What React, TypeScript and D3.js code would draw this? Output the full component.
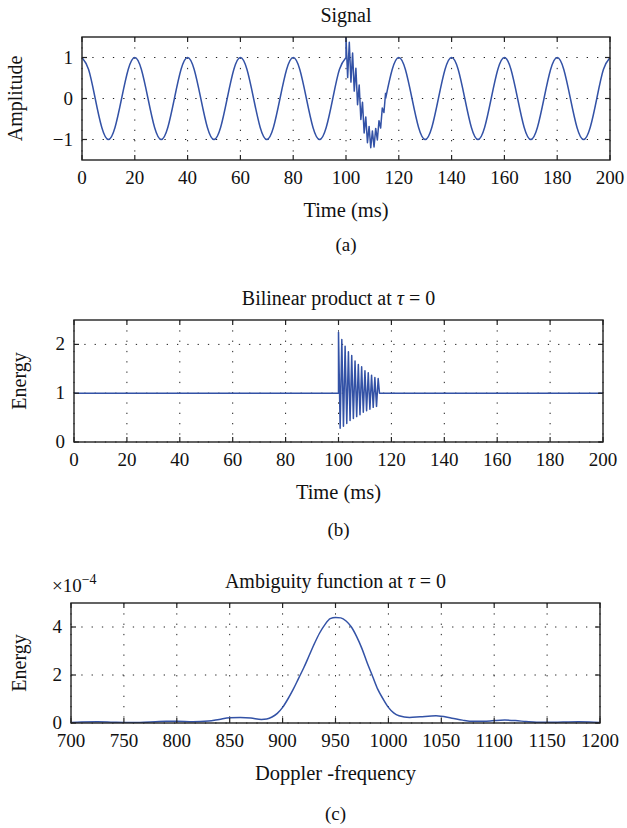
import React, { useRef, useEffect } from "react";
import * as d3 from "d3";

const WIDTH = 627;
const HEIGHT = 828;
const FONT = "'Liberation Serif', 'Times New Roman', serif";
const LINE_COLOR = "#3352a6";

// (a) Signal, sampled every 2.5 ms outside the burst, 0.625 ms inside it
const SIGNAL_STEP = 2.5;
const BURST_STEP = 0.625;
const BURST_START = 100;
const AFTER_START = 115;
const signalBefore = [
    1, 0.707, 0, -0.707, -1, -0.707, 0, 0.707,
    1, 0.707, 0, -0.707, -1, -0.707, 0, 0.707,
    1, 0.707, 0, -0.707, -1, -0.707, 0, 0.707,
    1, 0.707, 0, -0.707, -1, -0.707, 0, 0.707,
    1, 0.707, 0, -0.707, -1, -0.707, 0, 0.707,
    1,
];
const signalBurst = [
    1.5, 0.51, 1.37, 0.4, 1.11, 0.18, 0.74, -0.15, 0.33, -0.51, -0.09, -0.84,
    -0.45, -1.08, -0.68, -1.2, -0.79, -1.18, -0.73, -1.01, -0.54, -0.72, -0.23,
    -0.34, 0.14,
];
const signalAfter = [
    0, 0.707,
    1, 0.707, 0, -0.707, -1, -0.707, 0, 0.707,
    1, 0.707, 0, -0.707, -1, -0.707, 0, 0.707,
    1, 0.707, 0, -0.707, -1, -0.707, 0, 0.707,
    1, 0.707, 0, -0.707, -1, -0.707, 0, 0.707,
    1,
];
const timeTicks = [0, 20, 40, 60, 80, 100, 120, 140, 160, 180, 200];
const amplitudeTicks = [-1, 0, 1];

// (b) Bilinear product at tau = 0
const energyBaseTimes = [0, 100];
const energyBase = [1, 1];
const energyBurst = [
    2.25, 0.28, 2.1, 0.325, 1.96, 0.38, 1.85, 0.44, 1.77, 0.48, 1.66, 0.52,
    1.59, 0.56, 1.54, 0.61, 1.46, 0.64, 1.42, 0.67, 1.37, 0.71, 1.32, 0.73, 1.3,
];
const energyTailTimes = [115.5, 200];
const energyTail = [1, 1];
const energyTicks = [0, 1, 2];

// (c) Ambiguity function at tau = 0 (x 1e-4)
const dopplerFreq = [
    700, 710, 725, 740, 750, 765, 780, 790, 800, 815, 830, 840, 850, 860, 870,
    880, 885, 890, 895, 900, 905, 910, 915, 920, 925, 930, 935, 940, 945, 950,
    955, 960, 965, 970, 975, 980, 985, 990, 995, 1000, 1005, 1010, 1020, 1030,
    1045, 1060, 1070, 1080, 1090, 1100, 1110, 1120, 1130, 1140, 1150, 1165,
    1180, 1190, 1200,
];
const ambiguity = [
    0.02, 0.04, 0.05, 0.03, 0.02, 0.02, 0.05, 0.07, 0.07, 0.05, 0.08, 0.15,
    0.22, 0.23, 0.21, 0.15, 0.17, 0.25, 0.4, 0.65, 1.0, 1.4, 1.85, 2.3, 2.8,
    3.3, 3.75, 4.1, 4.35, 4.4, 4.38, 4.25, 4.0, 3.6, 3.1, 2.5, 1.95, 1.4, 1.0,
    0.65, 0.42, 0.3, 0.23, 0.26, 0.3, 0.2, 0.12, 0.07, 0.07, 0.1, 0.12, 0.1,
    0.06, 0.03, 0.03, 0.04, 0.05, 0.04, 0.02,
];
const dopplerTicks = [700, 750, 800, 850, 900, 950, 1000, 1050, 1100, 1150, 1200];
const ambiguityTicks = [0, 2, 4];

const stepped = (start, step, values) =>
    values.map((v, i) => [start + i * step, v]);

const App = () => {
    const svgRef = useRef();

    function drawPanel(root, p) {
        const x = d3.scaleLinear().domain(p.xDomain).range([p.left, p.right]);
        const y = d3.scaleLinear().domain(p.yDomain).range([p.bottom, p.top]);
        const g = root.append("g");

        const clipId = `clip-${p.id}`;
        g.append("clipPath")
            .attr("id", clipId)
            .append("rect")
            .attr("x", p.left)
            .attr("y", p.top)
            .attr("width", p.right - p.left)
            .attr("height", p.bottom - p.top);

        // dotted grid
        g.selectAll(".vgrid")
            .data(p.xTicks)
            .enter()
            .append("line")
            .attr("x1", (d) => x(d))
            .attr("x2", (d) => x(d))
            .attr("y1", p.top)
            .attr("y2", p.bottom)
            .attr("stroke", "#222")
            .attr("stroke-width", 1)
            .attr("stroke-dasharray", "1.3 9");
        g.selectAll(".hgrid")
            .data(p.yTicks)
            .enter()
            .append("line")
            .attr("x1", p.left)
            .attr("x2", p.right)
            .attr("y1", (d) => y(d))
            .attr("y2", (d) => y(d))
            .attr("stroke", "#222")
            .attr("stroke-width", 1)
            .attr("stroke-dasharray", "1.3 9");

        // data
        p.series.forEach((s) => {
            const line = d3
                .line()
                .x((d) => x(d[0]))
                .y((d) => y(d[1]))
                .curve(s.curve);
            g.append("path")
                .attr("clip-path", `url(#${clipId})`)
                .attr("d", line(s.points))
                .attr("fill", "none")
                .attr("stroke", LINE_COLOR)
                .attr("stroke-width", 1.5)
                .attr("stroke-linejoin", "round");
        });

        // inner ticks on all four sides
        const tl = 5;
        p.xTicks.forEach((d) => {
            g.append("line")
                .attr("x1", x(d)).attr("x2", x(d))
                .attr("y1", p.bottom).attr("y2", p.bottom - tl)
                .attr("stroke", "#222").attr("stroke-width", 1.2);
            g.append("line")
                .attr("x1", x(d)).attr("x2", x(d))
                .attr("y1", p.top).attr("y2", p.top + tl)
                .attr("stroke", "#222").attr("stroke-width", 1.2);
        });
        p.yTicks.forEach((d) => {
            g.append("line")
                .attr("x1", p.left).attr("x2", p.left + tl)
                .attr("y1", y(d)).attr("y2", y(d))
                .attr("stroke", "#222").attr("stroke-width", 1.2);
            g.append("line")
                .attr("x1", p.right).attr("x2", p.right - tl)
                .attr("y1", y(d)).attr("y2", y(d))
                .attr("stroke", "#222").attr("stroke-width", 1.2);
        });

        g.append("rect")
            .attr("x", p.left)
            .attr("y", p.top)
            .attr("width", p.right - p.left)
            .attr("height", p.bottom - p.top)
            .attr("fill", "none")
            .attr("stroke", "#222")
            .attr("stroke-width", 1.4);

        const txt = (sel) =>
            sel.attr("font-family", FONT).attr("fill", "#111");

        // tick labels
        g.selectAll(".xlab")
            .data(p.xTicks)
            .enter()
            .append("text")
            .call(txt)
            .attr("x", (d) => x(d))
            .attr("y", p.bottom + 24)
            .attr("text-anchor", "middle")
            .attr("font-size", 19)
            .text((d) => d);
        g.selectAll(".ylab")
            .data(p.yTicks)
            .enter()
            .append("text")
            .call(txt)
            .attr("x", p.left - 9)
            .attr("y", (d) => y(d) + 6)
            .attr("text-anchor", "end")
            .attr("font-size", 19)
            .text((d) => (d < 0 ? `\u2212${-d}` : d));

        const cx = (p.left + p.right) / 2;
        // title
        const title = g
            .append("text")
            .call(txt)
            .attr("x", cx)
            .attr("y", p.top - 15)
            .attr("text-anchor", "middle")
            .attr("font-size", 20);
        p.title.forEach((part) => {
            title
                .append("tspan")
                .attr("font-style", part.italic ? "italic" : "normal")
                .text(part.text);
        });

        txt(g.append("text"))
            .attr("x", cx)
            .attr("y", p.bottom + 57)
            .attr("text-anchor", "middle")
            .attr("font-size", 20.5)
            .text(p.xLabel);

        txt(g.append("text"))
            .attr("transform", `translate(${p.yLabelX}, ${(p.top + p.bottom) / 2}) rotate(-90)`)
            .attr("text-anchor", "middle")
            .attr("font-size", 20)
            .text(p.yLabel);

        txt(g.append("text"))
            .attr("x", cx)
            .attr("y", p.bottom + p.captionDy)
            .attr("text-anchor", "middle")
            .attr("font-size", 19)
            .text(p.caption);

        if (p.exponent) {
            const e = txt(g.append("text"))
                .attr("x", p.left - 19)
                .attr("y", p.top - 11)
                .attr("font-size", 19);
            e.append("tspan").text("\u00d710");
            e.append("tspan")
                .attr("font-size", 14)
                .attr("dy", -8)
                .text("\u22124");
        }
    }

    function buildChart() {
        const root = d3.select(svgRef.current);
        root.selectAll("*").remove();

        drawPanel(root, {
            id: "a",
            left: 82, right: 610, top: 37, bottom: 160,
            xDomain: [0, 200], yDomain: [-1.5, 1.5],
            xTicks: timeTicks, yTicks: amplitudeTicks,
            title: [{ text: "Signal" }],
            xLabel: "Time (ms)", yLabel: "Amplitude", yLabelX: 22,
            caption: "(a)", captionDy: 91,
            series: [
                { points: stepped(0, SIGNAL_STEP, signalBefore), curve: d3.curveNatural },
                {
                    points: [[BURST_START, 1], ...stepped(BURST_START, BURST_STEP, signalBurst)],
                    curve: d3.curveLinear,
                },
                { points: stepped(AFTER_START, SIGNAL_STEP, signalAfter), curve: d3.curveNatural },
            ],
        });

        drawPanel(root, {
            id: "b",
            left: 74, right: 603, top: 320, bottom: 442,
            xDomain: [0, 200], yDomain: [0, 2.5],
            xTicks: timeTicks, yTicks: energyTicks,
            title: [
                { text: "Bilinear product at " },
                { text: "\u03c4", italic: true },
                { text: " = 0" },
            ],
            xLabel: "Time (ms)", yLabel: "Energy", yLabelX: 26,
            caption: "(b)", captionDy: 94,
            series: [
                {
                    points: [
                        ...energyBaseTimes.map((t, i) => [t, energyBase[i]]),
                        ...stepped(BURST_START, BURST_STEP, energyBurst),
                        ...energyTailTimes.map((t, i) => [t, energyTail[i]]),
                    ],
                    curve: d3.curveLinear,
                },
            ],
        });

        drawPanel(root, {
            id: "c",
            left: 71, right: 600, top: 603, bottom: 723,
            xDomain: [700, 1200], yDomain: [0, 5],
            xTicks: dopplerTicks, yTicks: ambiguityTicks,
            title: [
                { text: "Ambiguity function at " },
                { text: "\u03c4", italic: true },
                { text: " = 0" },
            ],
            xLabel: "Doppler -frequency", yLabel: "Energy", yLabelX: 26,
            caption: "(c)", captionDy: 97,
            exponent: true,
            series: [
                {
                    points: dopplerFreq.map((f, i) => [f, ambiguity[i]]),
                    curve: d3.curveMonotoneX,
                },
            ],
        });
    }

    useEffect(buildChart, []);

    return (
        <svg
            ref={svgRef}
            width={WIDTH}
            height={HEIGHT}
            style={{ position: "absolute", left: 0, top: 0, background: "#fff" }}
        />
    );
};

export default App;
